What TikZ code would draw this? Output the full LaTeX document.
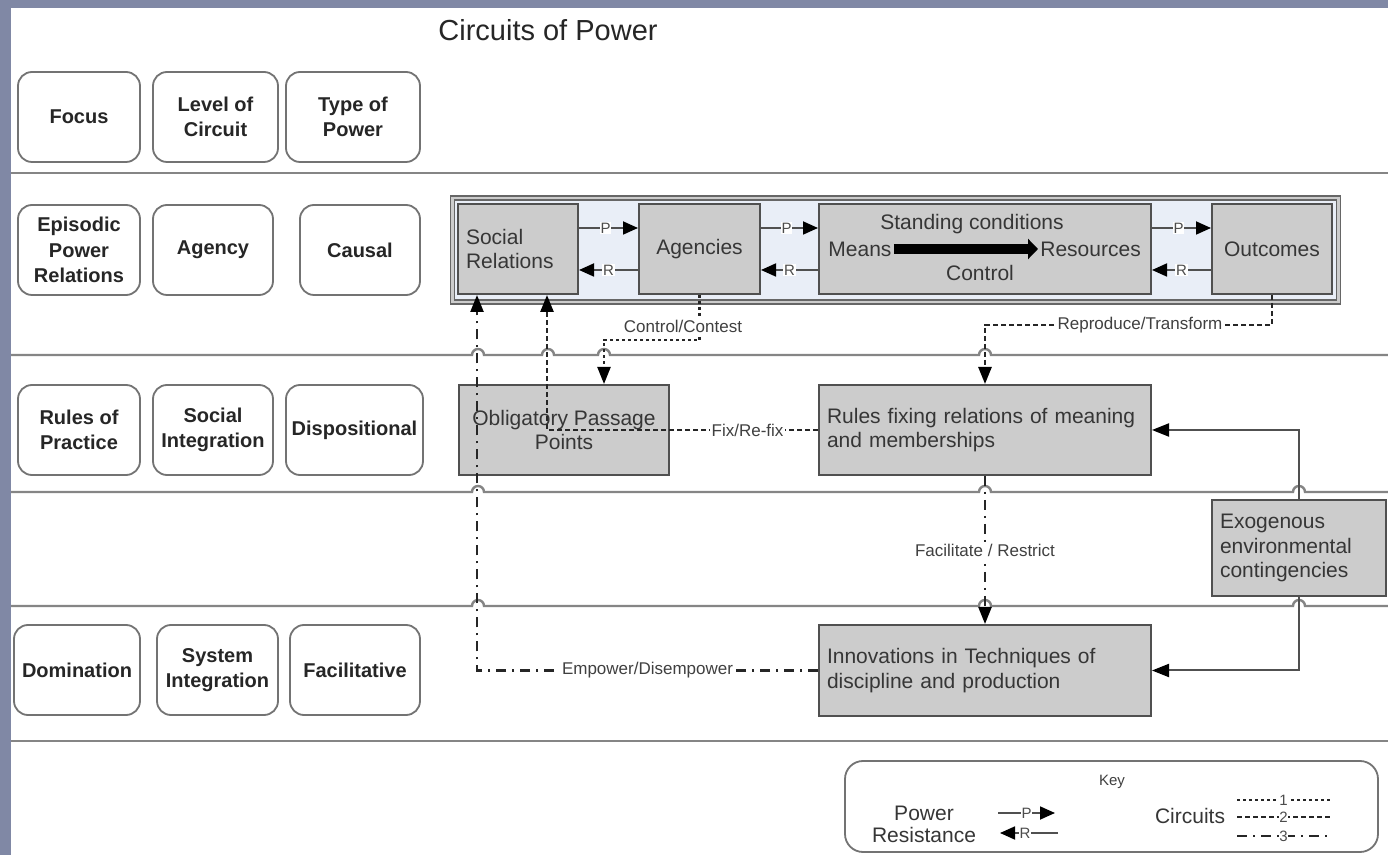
\documentclass[tikz,border=0pt]{standalone}
\usepackage{fontspec}
\setmainfont{Liberation Sans}
\usetikzlibrary{arrows.meta}
\definecolor{slate}{HTML}{8088A5}
\definecolor{boxgray}{HTML}{CCCCCC}
\definecolor{edgegray}{HTML}{505050}
\definecolor{paleblue}{HTML}{E9EEF7}
\definecolor{inkgray}{HTML}{363636}
\tikzset{
    lbox/.style={draw=black!55, line width=0.9pt, rounded corners=7pt, fill=white,
        minimum height=45pt, inner sep=2pt, align=center,
        font=\fontsize{10}{12.7}\selectfont\bfseries, text=black!85},
    gbox/.style={draw=edgegray, line width=1pt, fill=boxgray, minimum height=45pt,
        inner xsep=4pt, inner ysep=2pt, font=\fontsize{10.5}{12.3}\selectfont, text=inkgray},
    sctext/.style={font=\fontsize{10.5}{12.3}\selectfont, text=inkgray, inner sep=1pt},
    sepline/.style={draw=black!48, line width=1.2pt},
    headed/.style={-{Triangle[length=8.5pt,width=6.5pt,fill=black,color=black]}},
    circone/.style={draw=black!85, line width=1.1pt, dash pattern=on 1.4pt off 1.6pt},
    circtwo/.style={draw=black!85, line width=1.3pt, dash pattern=on 2.6pt off 1.4pt},
    circthree/.style={draw=black!85, line width=1.2pt, dash pattern=on 5pt off 3pt on 1pt off 3pt},
    solidlink/.style={draw=edgegray, line width=1pt, headed},
    prline/.style={draw=edgegray, line width=0.9pt, -{Triangle[length=7.5pt,width=6.5pt,color=black]}},
    prlbl/.style={font=\fontsize{7.5}{8}\selectfont, text=black!70, fill=white, inner sep=0.4pt},
    lbl/.style={font=\fontsize{8.5}{9}\selectfont, text=black!75, fill=white, inner sep=1pt},
}
\begin{document}
\begin{tikzpicture}[x=0.5pt, y=-0.5pt]
    \useasboundingbox (0,0) rectangle (1388,855);
    \fill[slate] (0,0) rectangle (1388,855);
    \fill[white] (11,8) rectangle (1388,855);

    \node[font=\fontsize{14.5}{16}\selectfont, text=black!85] (title) at (548,30) {Circuits of Power};

    \draw[sepline] (11,173) -- (1388,173);
    \draw[sepline] (11,355) \foreach \hx in {478,548,604,985} {-- ([xshift=-3pt]\hx,355) arc[start angle=180,end angle=0,radius=3pt]} -- (1388,355);
    \draw[sepline] (11,492) \foreach \hx in {478,985,1299} {-- ([xshift=-3pt]\hx,492) arc[start angle=180,end angle=0,radius=3pt]} -- (1388,492);
    \draw[sepline] (11,606) \foreach \hx in {478,985,1299} {-- ([xshift=-3pt]\hx,606) arc[start angle=180,end angle=0,radius=3pt]} -- (1388,606);
    \draw[sepline] (11,741) -- (1388,741);

    \node[lbox, minimum width=61pt] (focus) at (79,117) {Focus};
    \node[lbox, minimum width=62.5pt] (level) at (215.5,117) {Level of\\Circuit};
    \node[lbox, minimum width=67pt] (ptype) at (353,117) {Type of\\Power};

    \node[lbox, minimum width=61pt] (episodic) at (79,250) {Episodic\\Power\\Relations};
    \node[lbox, minimum width=60pt] (agency) at (213,250) {Agency};
    \node[lbox, minimum width=60pt] (causal) at (360,250) {Causal};

    \node[lbox, minimum width=61pt] (practice) at (79,430) {Rules of\\Practice};
    \node[lbox, minimum width=60pt] (socint) at (213,430) {Social\\Integration};
    \node[lbox, minimum width=68.5pt] (dispositional) at (354.5,430) {Dispositional};

    \node[lbox, minimum width=63pt] (domination) at (77,670) {Domination};
    \node[lbox, minimum width=60.5pt] (sysint) at (217.5,670) {System\\Integration};
    \node[lbox, minimum width=65pt] (facilitative) at (355,670) {Facilitative};

    \node[draw=black!60, double=black!20, double distance=1.4pt, line width=0.6pt,
        fill=paleblue, minimum width=443pt, minimum height=52pt] (episodes) at (895.5,250) {};

    \node[gbox, text width=52pt, align=left] (social) at (518,249) {Social\\Relations};
    \node[gbox, minimum width=60.5pt, align=center] (agencies) at (699.5,249) {Agencies};
    \node[gbox, minimum width=166pt] (sc) at (985,249) {};
    \node[gbox, minimum width=60pt, align=center] (outcomes) at (1272,249) {Outcomes};

    \node[sctext] (standing) at (972,224) {Standing conditions};
    \node[sctext, anchor=west] (means) at (826,249) {Means};
    \node[sctext, anchor=west] (resources) at (1038,249) {Resources};
    \node[sctext] (control) at (980,273) {Control};
    \draw[line width=5pt, -{Triangle[length=5pt,width=10pt]}] (means.east) -- (resources.west);

    \foreach \a/\b in {social/agencies, agencies/sc, sc/outcomes} {
        \draw[prline] ([yshift=10.5pt]\a.east) -- node[prlbl, pos=0.45]{P} ([yshift=10.5pt]\b.west);
        \draw[prline] ([yshift=-10.5pt]\b.west) -- node[prlbl, pos=0.5]{R} ([yshift=-10.5pt]\a.east);
    }

    \node[gbox, minimum width=105pt, align=center] (opp) at (564,430) {Obligatory Passage\\Points};
    \node[gbox, text width=158pt, align=left] (rules) at (985,430) {Rules fixing relations of meaning\\and memberships};
    \node[gbox, text width=79pt, minimum height=48pt, align=left] (exo) at (1299,548) {Exogenous\\environmental\\contingencies};
    \node[gbox, text width=158pt, minimum height=45.5pt, align=left] (inno) at (985,670.5) {Innovations in Techniques of\\discipline and production};

    \coordinate (ccturn) at (604,340);
    \coordinate (rtturn) at (985,325);

    \draw[circthree, headed] (inno.west) -| node[lbl, pos=0.25]{Empower/Disempower} ([xshift=10pt]social.south west);
    \draw[circtwo, headed] (rules.west) -| node[lbl, pos=0.13]{Fix/Re-fix} ([xshift=45pt]social.south west);
    \draw[circone, headed] (agencies.south) |- (ccturn) -- ([xshift=20pt]opp.north);
    \node[lbl] (cclbl) at (683,326) {Control/Contest};
    \draw[circtwo, headed] (outcomes.south) |- node[lbl, pos=0.73]{Reproduce/Transform} (rtturn) -- (rules.north);
    \draw[circthree, headed] (rules.south) -- node[lbl]{Facilitate / Restrict} (inno.north);
    \draw[solidlink] (exo.north) |- (rules.east);
    \draw[solidlink] (exo.south) |- (inno.east);

    \node[draw=black!55, line width=0.9pt, rounded corners=9pt, minimum width=266.5pt,
        minimum height=45.5pt] (key) at (1111.5,806.5) {};
    \node[font=\fontsize{7.5}{8}\selectfont, text=black!75] (keylbl) at (1112,782) {Key};
    \node[font=\fontsize{10.5}{11}\selectfont, text=inkgray, align=center] (keypr) at (924,824) {Power\\Resistance};
    \node[font=\fontsize{10.5}{11}\selectfont, text=inkgray] (keycirc) at (1190,816) {Circuits};
    \coordinate (kpa) at (998,813);
    \coordinate (kpb) at (1055,813);
    \coordinate (kra) at (1058,833);
    \coordinate (krb) at (1000,833);
    \draw[prline] (kpa) -- node[prlbl]{P} (kpb);
    \draw[prline] (kra) -- node[prlbl, pos=0.57]{R} (krb);
    \coordinate (konea) at (1237,800);
    \coordinate (koneb) at (1330,800);
    \coordinate (ktwoa) at (1237,817);
    \coordinate (ktwob) at (1330,817);
    \coordinate (kthreea) at (1237,836);
    \coordinate (kthreeb) at (1330,836);
    \draw[circone] (konea) -- node[prlbl]{1} (koneb);
    \draw[circtwo] (ktwoa) -- node[prlbl]{2} (ktwob);
    \draw[circthree] (kthreea) -- node[prlbl]{3} (kthreeb);
\end{tikzpicture}
\end{document}
